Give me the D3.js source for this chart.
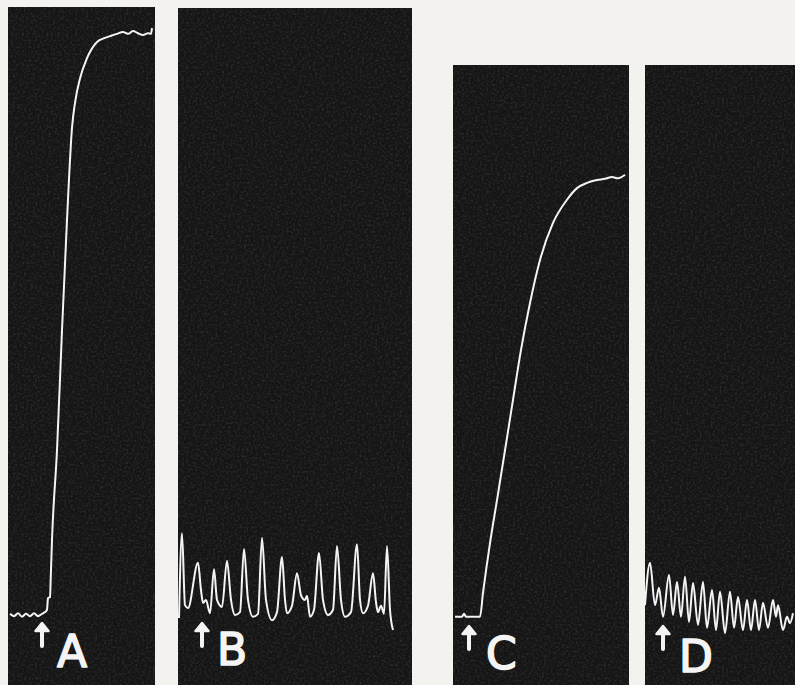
<!DOCTYPE html>
<html>
<head>
<meta charset="utf-8">
<script src="https://cdn.jsdelivr.net/npm/d3@7"></script>
<style>
  html, body { margin: 0; padding: 0; background: #f3f2ef; }
  svg { display: block; }
</style>
</head>
<body>
<div id="chart"></div>
<script>
// traces: time in s from panel start, response in % of A's maximum
var traceA_t = [1, 3, 5, 7, 9, 11, 13, 15, 17, 18.5, 19.5, 20, 21, 21.5, 22, 24.5, 27, 29.5, 32, 33.5, 36, 39.5, 44.5, 48.5, 51, 54.5, 57.5, 60, 62.5, 65, 67.5, 70, 71.5, 72];
var traceA_v = [0.2, -0.2, 0.3, -0.3, 0.2, -0.2, 0.3, -0.2, 0.2, 0.5, 0.9, 2.9, 3.1, 7.8, 12.9, 28.4, 49.1, 68.1, 84.0, 88.3, 92.5, 96.0, 98.8, 99.5, 99.8, 100.2, 100.5, 100.2, 100.7, 100.3, 100, 100.3, 100.2, 101.2];

var traceB_t = [0.5, 2, 3.5, 5, 10, 11.5, 12.5, 14, 16, 18, 19.5, 22, 24.5, 26.5, 28.5, 31, 33, 35, 37.5, 40, 42, 44, 47, 49.5, 52, 53.5, 54.5, 57, 59.5, 61.5, 63.5, 64.5, 66, 68, 70.5, 72.5, 75, 77.5, 79.5, 81.5, 83.5, 86.5, 89.5, 91, 92.5, 95, 97.5, 99, 100, 101.5, 103, 104.5, 106, 107.5];
var traceB_v = [-0.5, 14.1, 1.7, 1.2, 9.0, 4.3, 2.1, 2.6, 0.3, 7.9, 2.6, 1.4, 9.3, 2.6, 0, 0.5, 11.4, 2.6, -0.3, 0.2, 13.3, 2.6, -0.9, 0.5, 10.0, 2.6, 0.3, 1.6, 7.2, 3.4, 2.6, 3.3, -0.3, 0.9, 10.7, 2.6, 0, 0.9, 11.9, 2.6, -0.3, 0.5, 12.2, 2.6, 0.3, 1.6, 7.2, 2.2, 0.5, 1.6, 0.2, 11.9, 0.9, -2.6];

var traceC_t = [1, 4.5, 5.5, 6.5, 13.5, 15, 18.5, 22, 26, 30, 34, 38.5, 43.5, 50, 57, 62, 67, 72, 76, 79.5, 82.5, 86];
var traceC_v = [-0.3, -0.3, 0.2, -0.3, -0.3, 3.8, 12.4, 19.8, 28.4, 37.1, 45.7, 53.8, 61.2, 67.6, 71.6, 73.6, 74.5, 75.0, 75.2, 75.5, 75.3, 75.9];

var traceD_t = [0, 2.5, 5, 7, 9, 12, 14, 16, 18, 20, 22, 24, 26.5, 29, 31, 33.5, 35.5, 37.5, 40, 42.5, 44.5, 46.5, 49, 51, 53, 55, 57, 59, 61.5, 64, 65.5, 66.5, 69, 71, 72.5, 74];
var traceD_v = [1.7, 9.0, 1.7, 4.7, -0.3, 6.9, 0, 5.7, -0.3, 6.6, -1.2, 5.5, -1.7, 5.7, -2.2, 4.3, -2.6, 4.0, -3.1, 4.0, -2.2, 3.1, -2.6, 2.6, -2.6, 2.6, -2.6, 2.1, -2.2, 2.6, -0.3, 1.7, -2.6, -0.3, -1.4, 0.3];

var panelLabels = ["A", "B", "C", "D"];
var stimulusTimes = [17, 12, 8, 9];

var svgWidth = 795;
var svgHeight = 685;

// panel frames (layout only)
var panels = [
    { left: 8, right: 155, top: 7, t: traceA_t, v: traceA_v, labelX: 57, labelY: 667, curve: d3.curveMonotoneX },
    { left: 178, right: 412, top: 8, t: traceB_t, v: traceB_v, labelX: 217, labelY: 665, curve: d3.curveMonotoneX },
    { left: 453, right: 629, top: 65, t: traceC_t, v: traceC_v, labelX: 486, labelY: 669, curve: d3.curveMonotoneX },
    { left: 645, right: 800, top: 65, t: traceD_t, v: traceD_v, labelX: 679, labelY: 672, curve: d3.curveMonotoneX }
];

var svg = d3.select("#chart")
    .append("svg")
    .attr("width", svgWidth)
    .attr("height", svgHeight);

var defs = svg.append("defs");

var grain = defs.append("filter")
    .attr("id", "grain")
    .attr("x", 0).attr("y", 0).attr("width", 1).attr("height", 1);
grain.append("feTurbulence")
    .attr("type", "fractalNoise")
    .attr("baseFrequency", 0.45)
    .attr("numOctaves", 2)
    .attr("seed", 4)
    .attr("result", "noise");
grain.append("feColorMatrix")
    .attr("in", "noise")
    .attr("type", "matrix")
    .attr("values", "0 0 0 0 0.3  0 0 0 0 0.3  0 0 0 0 0.3  0 0 0 0.45 -0.2");

var soft = defs.append("filter").attr("id", "soft");
soft.append("feGaussianBlur").attr("stdDeviation", 0.45);

svg.append("rect")
    .attr("width", svgWidth)
    .attr("height", svgHeight)
    .attr("fill", "#f3f2ef");

// one response scale shared by all four records
var yScale = d3.scaleLinear()
    .domain([0, 100])
    .range([615, 35]);

panels.forEach(function(p, i) {
    var w = p.right - p.left;

    var xScale = d3.scaleLinear()
        .domain([0, w / 2])
        .range([p.left, p.right]);

    var g = svg.append("g");

    g.append("rect")
        .attr("x", p.left)
        .attr("y", p.top)
        .attr("width", w)
        .attr("height", svgHeight - p.top)
        .attr("fill", "#151515");

    g.append("rect")
        .attr("x", p.left)
        .attr("y", p.top)
        .attr("width", w)
        .attr("height", svgHeight - p.top)
        .attr("filter", "url(#grain)");

    var data = p.t.map(function(t, k) { return { t: t, v: p.v[k] }; });

    var line = d3.line()
        .x(d => xScale(d.t))
        .y(d => yScale(d.v))
        .curve(p.curve);

    g.append("path")
        .datum(data)
        .attr("d", line)
        .attr("fill", "none")
        .attr("stroke", "#f4f4f4")
        .attr("stroke-width", 2)
        .attr("stroke-linejoin", "round")
        .attr("filter", "url(#soft)");

    // stimulus arrow
    var ax = xScale(stimulusTimes[i]);
    var tipY = 623 + (i >= 2 ? 3 : 0);
    g.append("path")
        .attr("d", `M${ax},${tipY + 23} L${ax},${tipY + 5}`)
        .attr("stroke", "#f4f4f4")
        .attr("stroke-width", 4)
        .attr("stroke-linecap", "round");
    g.append("path")
        .attr("d", `M${ax - 6.5},${tipY + 8} L${ax},${tipY} L${ax + 6.5},${tipY + 8} Z`)
        .attr("fill", "#f4f4f4")
        .attr("stroke", "#f4f4f4")
        .attr("stroke-width", 2.5)
        .attr("stroke-linejoin", "round");

    g.append("text")
        .attr("x", p.labelX)
        .attr("y", p.labelY)
        .attr("font-family", "DejaVu Sans, sans-serif")
        .attr("font-size", 44)
        .attr("fill", "#f4f4f4")
        .attr("stroke", "#f4f4f4")
        .attr("stroke-width", 1.6)
        .attr("stroke-linejoin", "round")
        .text(panelLabels[i]);
});
</script>
</body>
</html>
